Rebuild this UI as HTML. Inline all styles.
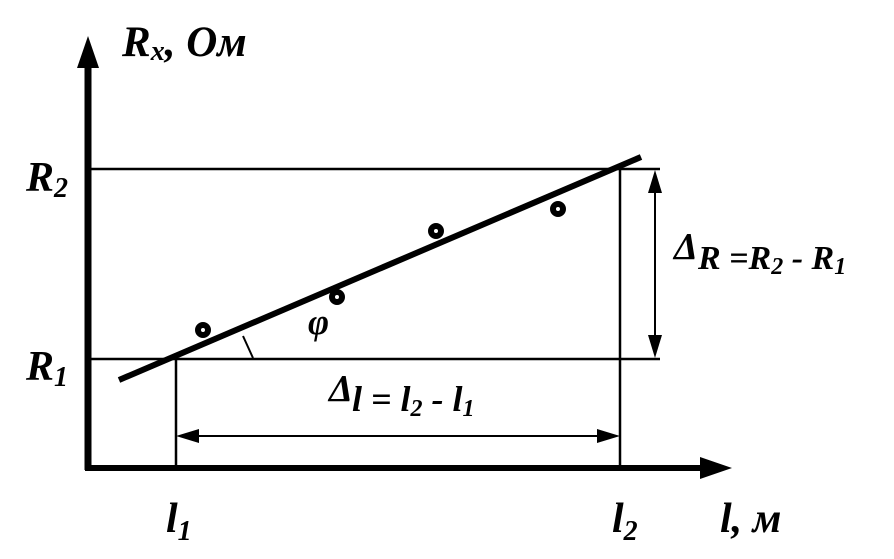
<!DOCTYPE html>
<html><head><meta charset="utf-8"><style>
html,body{margin:0;padding:0;background:#fff;width:894px;height:559px;overflow:hidden}
text{font-family:"Liberation Serif",serif;font-weight:bold;font-style:italic;fill:#000}
</style></head><body>
<svg width="894" height="559" viewBox="0 0 894 559" xmlns="http://www.w3.org/2000/svg">
<line x1="88" y1="60" x2="88" y2="470" stroke="#000" stroke-width="7"/>
<polygon points="88,36 77,68 99,68" fill="#000"/>
<line x1="85" y1="468" x2="705" y2="468" stroke="#000" stroke-width="6"/>
<polygon points="732,468 700,457 700,479" fill="#000"/>
<line x1="88" y1="169" x2="660" y2="169" stroke="#000" stroke-width="2.5"/>
<line x1="88" y1="359" x2="660" y2="359" stroke="#000" stroke-width="2.5"/>
<line x1="176" y1="359" x2="176" y2="468" stroke="#000" stroke-width="2.5"/>
<line x1="620" y1="169" x2="620" y2="468" stroke="#000" stroke-width="2.5"/>
<line x1="655" y1="185" x2="655" y2="343" stroke="#000" stroke-width="2"/>
<polygon points="655,170 648,193 662,193" fill="#000"/>
<polygon points="655,358 648,335 662,335" fill="#000"/>
<line x1="190" y1="436" x2="605" y2="436" stroke="#000" stroke-width="2"/>
<polygon points="176,436 199,429 199,443" fill="#000"/>
<polygon points="620,436 597,429 597,443" fill="#000"/>
<line x1="119" y1="380" x2="641" y2="157" stroke="#000" stroke-width="6"/>
<line x1="243" y1="336" x2="253" y2="358" stroke="#000" stroke-width="2"/>
<g fill="none" stroke="#000" stroke-width="6">
<circle cx="203" cy="330" r="5"/><circle cx="337" cy="297" r="5"/>
<circle cx="436" cy="231" r="5"/><circle cx="558" cy="209" r="5"/>
</g>
<text x="122" y="56" font-size="43">R<tspan font-size="28" dy="4">x</tspan><tspan dy="-4">, Ом</tspan></text>
<text x="26" y="191" font-size="42">R<tspan font-size="28" dy="6">2</tspan></text>
<text x="26" y="380" font-size="42">R<tspan font-size="28" dy="6">1</tspan></text>
<text x="166" y="532" font-size="42">l<tspan font-size="28" dy="8">1</tspan></text>
<text x="612" y="532" font-size="42">l<tspan font-size="28" dy="8">2</tspan></text>
<text x="720" y="532" font-size="42">l, м</text>
<text x="308" y="334" font-size="36">φ</text>
<text x="674" y="259" font-size="38">Δ</text>
<text x="698" y="269" font-size="34">R =R<tspan font-size="24" dy="5">2</tspan><tspan dy="-5"> - R</tspan><tspan font-size="24" dy="5">1</tspan></text>
<text x="329" y="401" font-size="38">Δ</text>
<text x="352" y="411" font-size="36">l = l<tspan font-size="24" dy="5">2</tspan><tspan dy="-5"> - l</tspan><tspan font-size="24" dy="5">1</tspan></text>
</svg>
</body></html>
